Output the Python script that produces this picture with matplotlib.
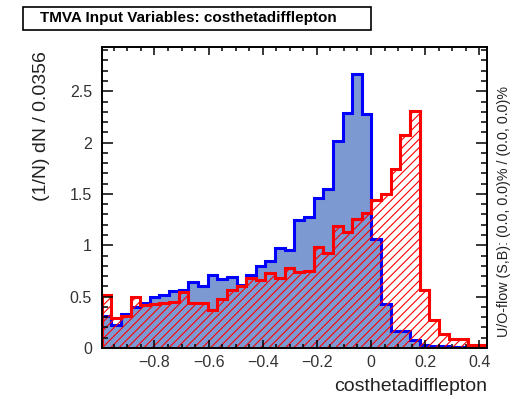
import numpy as np
import matplotlib
matplotlib.use('Agg')
import matplotlib.pyplot as plt
from matplotlib.patches import Rectangle
from matplotlib.ticker import MultipleLocator

# binning: 40 bins, width 0.0356
XMIN, BINW, NBINS = -0.995, 0.0356, 40

signal = [0.31, 0.22, 0.33, 0.40, 0.44, 0.50, 0.52, 0.55, 0.56, 0.64,
          0.60, 0.71, 0.67, 0.69, 0.61, 0.71, 0.80, 0.85, 0.97, 0.95,
          1.25, 1.28, 1.46, 1.55, 2.02, 2.29, 2.67, 2.28, 1.06, 0.43,
          0.16, 0.16, 0.08, 0.03, 0.02, 0.02, 0.01, 0.01, 0.01, 0.0]
background = [0.52, 0.29, 0.31, 0.50, 0.42, 0.43, 0.44, 0.45, 0.54, 0.44,
              0.44, 0.37, 0.48, 0.56, 0.60, 0.68, 0.66, 0.73, 0.68, 0.78,
              0.74, 0.75, 0.98, 0.92, 1.19, 1.13, 1.26, 1.31, 1.44, 1.50,
              1.74, 2.07, 2.31, 0.56, 0.27, 0.14, 0.09, 0.09, 0.03, 0.03]

xticks = [-0.8, -0.6, -0.4, -0.2, 0.0, 0.2, 0.4]
xticklabels = ['\u22120.8', '\u22120.6', '\u22120.4', '\u22120.2', '0', '0.2', '0.4']
yticks = [0, 0.5, 1, 1.5, 2, 2.5]
yticklabels = ['0', '0.5', '1', '1.5', '2', '2.5']

plt.rcParams['font.family'] = ['Liberation Sans', 'DejaVu Sans']
plt.rcParams['hatch.color'] = 'red'
plt.rcParams['hatch.linewidth'] = 0.8

edges = XMIN + BINW*np.arange(NBINS+1)

fig = plt.figure(figsize=(5.16, 3.99), dpi=100)
ax = fig.add_axes([0.197, 0.128, 0.747, 0.754])

# signal: filled, blue outline
ax.stairs(signal, edges, fill=True, facecolor='#7d99d1', edgecolor='none', linewidth=0)
ax.stairs(signal, edges, color='#0000ff', linewidth=2.2)
# background: red hatch, red outline
ax.stairs(background, edges, fill=True, facecolor='none', edgecolor='red', hatch='////', linewidth=0)
ax.stairs(background, edges, color='#ff0000', linewidth=2.2)

ax.set_xlim(edges[0], edges[-1])
ax.set_ylim(0, 2.93)
ax.set_xticks(xticks, xticklabels)
ax.set_yticks(yticks, yticklabels)
ax.xaxis.set_minor_locator(MultipleLocator(0.05))
ax.yaxis.set_minor_locator(MultipleLocator(0.1))
ax.tick_params(axis='both', which='both', direction='in', top=True, right=True,
               labelsize=11.5, labelcolor='#333333', width=1.1)
ax.tick_params(axis='x', which='major', length=6, pad=5)
ax.tick_params(axis='x', which='minor', length=3)
ax.tick_params(axis='y', which='major', length=8, pad=7)
ax.tick_params(axis='y', which='minor', length=4.5)
for sp in ax.spines.values():
    sp.set_linewidth(1.4)

ax.set_xlabel('costhetadifflepton', fontsize=14, ha='right', x=1.0, labelpad=6, color='#222222')
ax.set_ylabel('(1/N) dN / 0.0356', fontsize=14, ha='right', y=0.985, labelpad=14, color='#222222')

# title box
fig.patches.append(Rectangle((0.044, 0.925), 0.675, 0.058, transform=fig.transFigure,
                             facecolor='white', edgecolor='black', linewidth=1.2))
fig.text(0.078, 0.954, 'TMVA Input Variables: costhetadifflepton', fontsize=11, fontweight='bold',
         ha='left', va='center')
fig.text(0.976, 0.155, 'U/O-flow (S,B): (0.0, 0.0)% / (0.0, 0.0)%', fontsize=10.3,
         rotation=90, ha='center', va='bottom', color='#222222')

fig.savefig('out.png', dpi=100)
